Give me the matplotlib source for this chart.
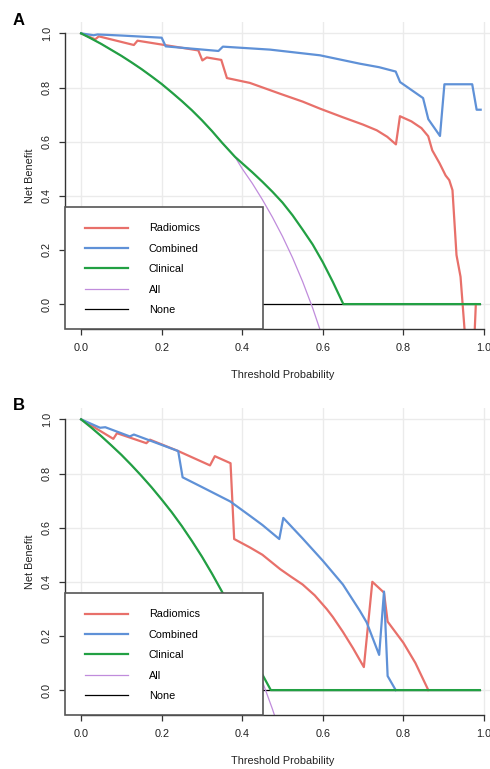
import matplotlib
matplotlib.use('Agg')
import matplotlib.pyplot as plt
from matplotlib.patches import Rectangle

plt.rcParams['font.family'] = ['Liberation Sans', 'DejaVu Sans']

# ---------------- panel A ----------------
a_rad_x = [0.0, 0.035, 0.044, 0.131, 0.14, 0.291, 0.301, 0.312, 0.348, 0.362, 0.419, 0.494, 0.55, 0.593,
           0.65, 0.70, 0.734, 0.76, 0.7816, 0.7916, 0.82, 0.845, 0.8618, 0.8718, 0.89, 0.905, 0.914,
           0.922, 0.932, 0.942, 0.96, 0.97, 0.98]
a_rad_y = [1.0, 0.978, 0.989, 0.957, 0.973, 0.937, 0.900, 0.911, 0.902, 0.835, 0.817, 0.777, 0.748, 0.722,
           0.690, 0.663, 0.642, 0.618, 0.590, 0.694, 0.675, 0.650, 0.620, 0.568, 0.520, 0.475, 0.458,
           0.421, 0.181, 0.101, -0.25, -0.35, 0.0]

a_comb_x = [0.0, 0.031, 0.041, 0.10, 0.2, 0.21, 0.341, 0.352, 0.469, 0.593, 0.692, 0.74, 0.781, 0.792,
            0.849, 0.862, 0.891, 0.902, 0.971, 0.982, 0.992]
a_comb_y = [1.0, 0.993, 0.996, 0.992, 0.984, 0.952, 0.935, 0.951, 0.940, 0.919, 0.888, 0.875, 0.859, 0.820,
            0.761, 0.683, 0.621, 0.812, 0.812, 0.718, 0.718]

a_clin_x = [0.0, 0.025, 0.05, 0.075, 0.1, 0.125, 0.15, 0.175, 0.2, 0.225, 0.25, 0.275, 0.3, 0.325, 0.35,
            0.382, 0.4, 0.425, 0.45, 0.475, 0.5, 0.525, 0.55, 0.575, 0.6, 0.625, 0.651, 0.99]
a_clin_y = [1.0, 0.981, 0.961, 0.939, 0.917, 0.893, 0.868, 0.841, 0.813, 0.782, 0.75, 0.716, 0.679, 0.639,
            0.596, 0.544, 0.52, 0.487, 0.452, 0.415, 0.375, 0.328, 0.275, 0.22, 0.155, 0.082, 0.0, 0.0]

a_all_x = [0.0, 0.025, 0.05, 0.075, 0.1, 0.125, 0.15, 0.175, 0.2, 0.225, 0.25, 0.275, 0.3, 0.325, 0.35,
           0.382, 0.4, 0.425, 0.45, 0.475, 0.5, 0.525, 0.55, 0.575, 0.6]
a_all_y = [1.0, 0.981, 0.961, 0.939, 0.917, 0.893, 0.868, 0.841, 0.813, 0.782, 0.75, 0.716, 0.679, 0.639,
           0.596, 0.544, 0.50, 0.446, 0.386, 0.321, 0.25, 0.171, 0.083, -0.015, -0.125]

# ---------------- panel B ----------------
b_rad_x = [0.0, 0.08, 0.089, 0.162, 0.171, 0.241, 0.32, 0.332, 0.371, 0.38, 0.419, 0.45, 0.494, 0.52,
           0.55, 0.58, 0.61, 0.625, 0.65, 0.675, 0.702, 0.723, 0.752, 0.761, 0.80, 0.83, 0.862]
b_rad_y = [1.0, 0.928, 0.949, 0.912, 0.925, 0.883, 0.83, 0.864, 0.838, 0.558, 0.527, 0.50, 0.447, 0.42,
           0.39, 0.35, 0.299, 0.27, 0.215, 0.155, 0.085, 0.40, 0.360, 0.253, 0.175, 0.10, 0.0]

b_comb_x = [0.0, 0.047, 0.06, 0.121, 0.131, 0.241, 0.252, 0.3, 0.37, 0.419, 0.45, 0.492, 0.502, 0.55,
            0.6, 0.65, 0.692, 0.709, 0.74, 0.752, 0.761, 0.781]
b_comb_y = [1.0, 0.969, 0.971, 0.937, 0.944, 0.883, 0.786, 0.75, 0.697, 0.644, 0.61, 0.558, 0.636, 0.56,
            0.478, 0.39, 0.293, 0.25, 0.13, 0.364, 0.052, 0.0]

b_clin_x = [0.0, 0.025, 0.05, 0.075, 0.1, 0.125, 0.15, 0.175, 0.2, 0.225, 0.25, 0.275, 0.3, 0.325, 0.35,
            0.375, 0.4, 0.425, 0.452, 0.471, 0.99]
b_clin_y = [1.0, 0.970, 0.938, 0.904, 0.869, 0.831, 0.791, 0.749, 0.704, 0.657, 0.606, 0.551, 0.493, 0.430,
            0.363, 0.290, 0.211, 0.13, 0.052, 0.0, 0.0]

b_all_x = [0.0, 0.025, 0.05, 0.075, 0.1, 0.125, 0.15, 0.175, 0.2, 0.225, 0.25, 0.275, 0.3, 0.325, 0.35,
           0.375, 0.4, 0.425, 0.45, 0.475, 0.5]
b_all_y = [1.0, 0.970, 0.938, 0.904, 0.869, 0.831, 0.791, 0.749, 0.704, 0.657, 0.606, 0.551, 0.493, 0.430,
           0.363, 0.290, 0.211, 0.126, 0.032, -0.07, -0.183]

none_x = [0.0, 0.99]
none_y = [0.0, 0.0]

labels = ['Radiomics', 'Combined', 'Clinical', 'All', 'None']
ticks = [0.0, 0.2, 0.4, 0.6, 0.8, 1.0]
tick_labels = ['0.0', '0.2', '0.4', '0.6', '0.8', '1.0']

c_rad = '#E8706A'
c_comb = '#5F91D7'
c_clin = '#22A043'
c_all = '#C08CDC'

fig = plt.figure(figsize=(4.9, 7.69), dpi=100)


def panel(bottom, letter, letter_y, rad, comb, clin, allc):
    ax = fig.add_axes([65 / 490, bottom, 435 / 490, 307 / 769])
    ax.set_xlim(-0.04, 1.04)
    ax.set_ylim(-0.092, 1.042)
    ax.grid(True, color='#EBEBEB', lw=1.0)
    ax.set_axisbelow(True)

    ax.plot(none_x, none_y, color='black', lw=0.9, label=labels[4], zorder=2)
    ax.plot(allc[0], allc[1], color=c_all, lw=0.9, label=labels[3], zorder=2.1)
    ax.plot(rad[0], rad[1], color=c_rad, lw=1.6, label=labels[0], zorder=2.2)
    ax.plot(comb[0], comb[1], color=c_comb, lw=1.6, label=labels[1], zorder=2.3)
    ax.plot(clin[0], clin[1], color=c_clin, lw=1.6, label=labels[2], zorder=2.4)

    for s in ['top', 'right']:
        ax.spines[s].set_visible(False)
    ax.spines['left'].set_bounds(0, 1)
    ax.spines['bottom'].set_bounds(0, 1)
    for s in ['left', 'bottom']:
        ax.spines[s].set_color('#333333')
        ax.spines[s].set_linewidth(1.0)

    ax.set_xticks(ticks)
    ax.set_xticklabels(tick_labels)
    ax.set_yticks(ticks)
    ax.set_yticklabels(tick_labels, rotation=90, va='center')
    ax.tick_params(length=4.3, width=0.9, color='#333333', labelsize=7.8, labelcolor='#222222')
    ax.tick_params(axis='x', pad=6)
    ax.tick_params(axis='y', pad=5)
    ax.set_xlabel('Threshold Probability', fontsize=7.8, color='#222222', labelpad=12)
    ax.set_ylabel('Net Benefit', fontsize=7.8, color='#222222', labelpad=5)

    # legend box
    ax.add_patch(Rectangle((0, 0), 0.455, 0.397, transform=ax.transAxes, facecolor='white',
                           edgecolor='#555555', lw=1.2, zorder=4, clip_on=False))
    h, l = ax.get_legend_handles_labels()
    order = [l.index(n) for n in labels]
    ax.legend([h[i] for i in order], [l[i] for i in order], loc='upper left',
              bbox_to_anchor=(0.046, 0.344), borderaxespad=0, borderpad=0, frameon=False,
              fontsize=7.8, handlelength=3.93, handletextpad=1.96, labelspacing=0.96)

    fig.text(13 / 490, 1 - letter_y / 769, letter, fontsize=12, fontweight='bold',
             va='baseline', ha='left')
    return ax


panel(440 / 769, 'A', 25, (a_rad_x, a_rad_y), (a_comb_x, a_comb_y), (a_clin_x, a_clin_y), (a_all_x, a_all_y))
panel(54 / 769, 'B', 410, (b_rad_x, b_rad_y), (b_comb_x, b_comb_y), (b_clin_x, b_clin_y), (b_all_x, b_all_y))

fig.savefig('out.png', dpi=100)
